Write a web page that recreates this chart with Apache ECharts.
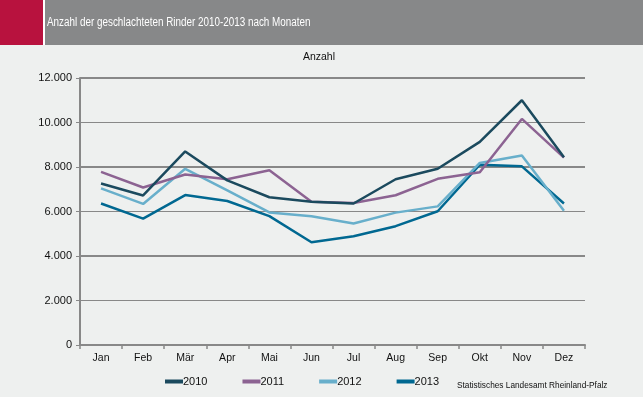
<!DOCTYPE html>
<html><head><meta charset="utf-8">
<script src="https://cdn.jsdelivr.net/npm/echarts@6/dist/echarts.min.js"></script>
<style>html,body{margin:0;padding:0;background:#eef0ef}#c{width:643px;height:397px}</style>
</head><body><div id="c"></div>
<script>
const months = ["Jan","Feb","Mär","Apr","Mai","Jun","Jul","Aug","Sep","Okt","Nov","Dez"];
const s2010 = [7260,6720,8700,7400,6640,6440,6360,7450,7920,9130,11000,8440];
const s2011 = [7780,7080,7660,7450,7850,6440,6380,6730,7470,7760,10160,8420];
const s2012 = [7040,6340,7920,6950,5960,5790,5460,5950,6230,8180,8520,6030];
const s2013 = [6360,5680,6740,6470,5790,4620,4890,5340,6010,8100,8030,6360];
const yTicks = [0,2000,4000,6000,8000,10000,12000];
const seriesNames = ["2010","2011","2012","2013"];
const colors = ["#1b4a5e","#8c6392","#68afcb","#006891"];
const dataSets = [s2010,s2011,s2012,s2013];

const chart = echarts.init(document.getElementById('c'));
const fmt = v => v === 0 ? "0" : String(v).replace(/\B(?=(\d{3})+(?!\d))/g, ".");
const FF = "'Liberation Sans', Arial, sans-serif";
chart.setOption({
  backgroundColor: "#eef0ef",
  animation: false,
  graphic: [
    {type:"rect", shape:{x:0,y:0,width:643,height:45}, style:{fill:"#878889"}},
    {type:"rect", shape:{x:0,y:0,width:43,height:45}, style:{fill:"#b8123e"}},
    {type:"rect", shape:{x:43,y:0,width:2,height:45}, style:{fill:"#ffffff"}},
    {type:"text", x:47, y:23, scaleX:0.79, style:{text:"Anzahl der geschlachteten Rinder 2010-2013 nach Monaten", fill:"#ffffff", font:"12.5px " + FF, verticalAlign:"middle"}},
    {type:"text", x:303, y:57, scaleX:0.95, style:{text:"Anzahl", fill:"#111", font:"11px " + FF, verticalAlign:"middle"}},
    {type:"text", x:457, y:386, scaleX:0.92, style:{text:"Statistisches Landesamt Rheinland-Pfalz", fill:"#111", font:"9px " + FF, verticalAlign:"middle"}}
  ],
  grid: {left:80, right:58, top:78, bottom:52, containLabel:false},
  legend: {
    data: seriesNames, left:160, top:371, itemWidth:18, itemHeight:4, itemGap:35,
    icon:"rect",
    textStyle:{fontFamily:FF, fontSize:11, color:"#111", padding:[0,0,0,-5]}
  },
  xAxis: {
    type:"category", data:months, boundaryGap:true,
    axisLine:{lineStyle:{color:"#888", width:2}},
    axisTick:{show:true, length:4, lineStyle:{color:"#888", width:1.5}},
    axisLabel:{color:"#111", fontSize:10.5, fontFamily:FF, margin:8}
  },
  yAxis: {
    type:"value", min:0, max:12000, interval:2000,
    axisLine:{show:true, lineStyle:{color:"#888", width:2}},
    axisTick:{show:true, length:4, lineStyle:{color:"#888"}},
    axisLabel:{color:"#111", fontSize:11, fontFamily:FF, formatter: fmt, margin:8},
    splitLine:{lineStyle:{color:"#888", width:1}}
  },
  series: dataSets.map((d,i) => ({
    name: seriesNames[i], type:"line", data:d, symbol:"none",
    lineStyle:{color:colors[i], width:2.5}, itemStyle:{color:colors[i]},
    z: 10 - i,
    markLine: i === 0 ? {silent:true, symbol:"none", label:{show:false},
      lineStyle:{color:"#888", width:2, type:"solid"},
      data: [yTicks[2], yTicks[4], yTicks[6]].map(v => ({yAxis:v}))} : undefined
  }))
});
</script></body></html>
